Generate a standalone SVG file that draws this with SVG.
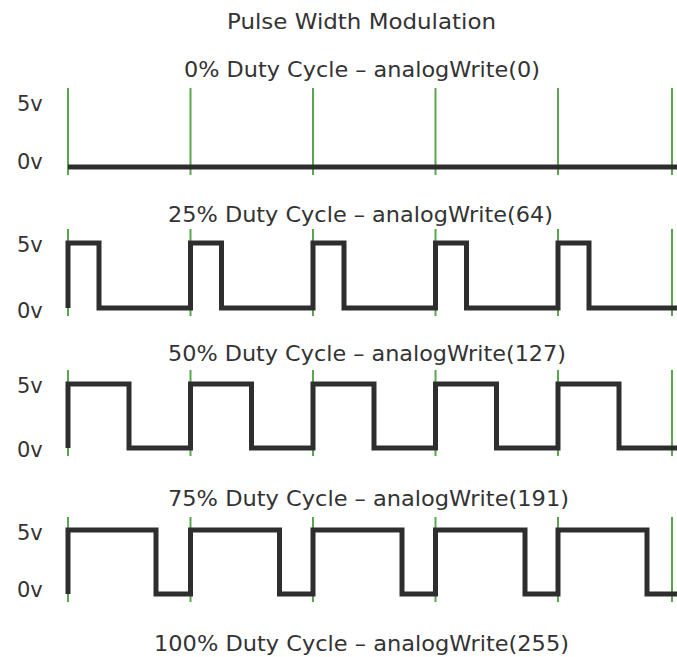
<svg xmlns="http://www.w3.org/2000/svg" width="677" height="657" viewBox="0 0 677 657">
<style>
text{font-family:"DejaVu Sans","Liberation Sans",sans-serif;fill:#333;}
.t{font-size:22px;}
.v{font-size:21px;}
.g{stroke:#5aa64f;stroke-width:2;fill:none;}
.w{stroke:#2e2e2e;stroke-width:5;fill:none;stroke-linejoin:miter;stroke-linecap:butt;}
</style>
<rect width="677" height="657" fill="#fff"/>
<text class="t" x="227" y="29" textLength="269" lengthAdjust="spacingAndGlyphs">Pulse Width Modulation</text>

<g id="row0">
<text class="t" x="184" y="77" textLength="356" lengthAdjust="spacingAndGlyphs">0% Duty Cycle – analogWrite(0)</text>
<text class="v" x="17" y="111">5v</text>
<text class="v" x="17" y="169">0v</text>
<path class="g" d="M68,88V175M190.5,88V175M313,88V175M435.5,88V175M558,88V175M672,88V175"/>
<path class="w" d="M68,167H677"/>
</g>

<g id="row25">
<text class="t" x="168" y="222" textLength="385" lengthAdjust="spacingAndGlyphs">25% Duty Cycle – analogWrite(64)</text>
<text class="v" x="17" y="252">5v</text>
<text class="v" x="17" y="318">0v</text>
<path class="g" d="M68,229V316M190.5,229V316M313,229V316M435.5,229V316M558,229V316M672,229V316"/>
<path class="w" d="M68,308V243H99V308H190.5V243H221.5V308H313V243H344V308H435.5V243H466.5V308H558V243H589V308H677"/>
</g>

<g id="row50">
<text class="t" x="168" y="361" textLength="398" lengthAdjust="spacingAndGlyphs">50% Duty Cycle – analogWrite(127)</text>
<text class="v" x="17" y="393">5v</text>
<text class="v" x="17" y="457">0v</text>
<path class="g" d="M68,370V456M190.5,370V456M313,370V456M435.5,370V456M558,370V456M672,370V456"/>
<path class="w" d="M68,448V384H129V448H190.5V384H251.5V448H313V384H374V448H435.5V384H496.5V448H558V384H619V448H677"/>
</g>

<g id="row75">
<text class="t" x="168" y="506" textLength="401" lengthAdjust="spacingAndGlyphs">75% Duty Cycle – analogWrite(191)</text>
<text class="v" x="17" y="540">5v</text>
<text class="v" x="17" y="597">0v</text>
<path class="g" d="M68,517V602M190.5,517V602M313,517V602M435.5,517V602M558,517V602M672,517V602"/>
<path class="w" d="M68,594V530H156V594H190.5V530H279.5V594H313V530H402V594H435.5V530H525V594H558V530H647V594H677"/>
</g>

<g id="row100">
<text class="t" x="154" y="651" textLength="415" lengthAdjust="spacingAndGlyphs">100% Duty Cycle – analogWrite(255)</text>
</g>
</svg>
